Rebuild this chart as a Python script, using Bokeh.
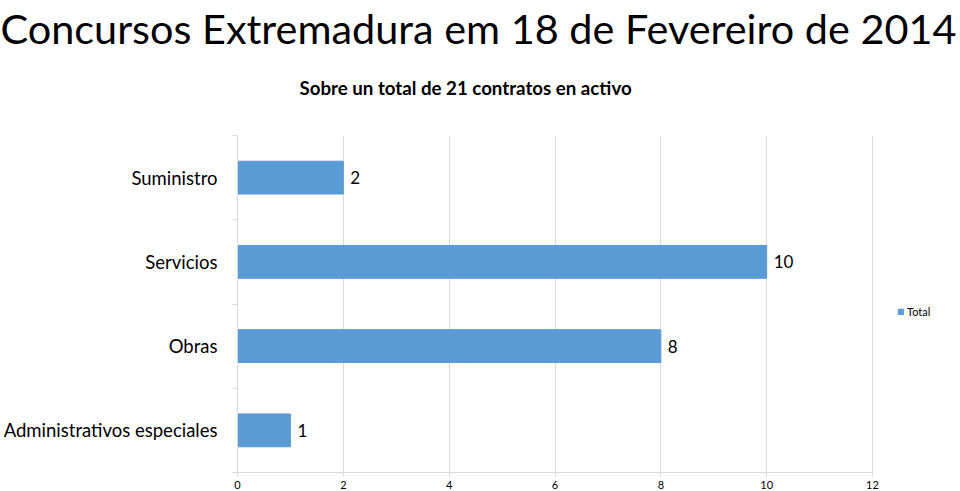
from bokeh.plotting import figure
from bokeh.models import ColumnDataSource, FixedTicker, Legend, LegendItem, Range1d, Title
from bokeh.core.properties import value
from bokeh.embed import file_html
from bokeh.resources import INLINE

title = "Concursos Extremadura em 18 de Fevereiro de 2014"
subtitle = "Sobre un total de 21 contratos en activo"
categories = ["Suministro", "Servicios", "Obras", "Administrativos especiales"]
totals = [2, 10, 8, 1]
x_ticks = [0, 2, 4, 6, 8, 10, 12]
series_name = "Total"

BAR = "#5B9BD5"
GRID = "#D9D9D9"
FONT = "Lato"

# plot-area geometry (pixels): value axis 0..12 spans x 237..872; frame runs on to 960
LEFT, AXIS_RIGHT, W = 237, 872, 960
x_max = x_ticks[-1]
x_view_max = x_max * (W - LEFT) / (AXIS_RIGHT - LEFT)

n = len(categories)
ypos = [n - i - 0.5 for i in range(n)]
src = ColumnDataSource(dict(y=ypos, v=totals, t=[str(v) for v in totals], c=categories))

p = figure(width=W, height=491, x_range=Range1d(0, x_view_max), y_range=Range1d(0, n),
           output_backend="svg", toolbar_location=None,
           min_border_left=LEFT, min_border_right=0, min_border_top=0, min_border_bottom=19)
p.outline_line_color = None

r = p.hbar(y="y", right="v", left=0, height=0.39, color=BAR, source=src)
p.text(x="v", y="y", text="t", source=src, x_offset=7, text_baseline="middle",
       text_align="left", text_font=value(FONT), text_font_size="17px", text_color="#000000")

p.xgrid.grid_line_color = GRID
p.xgrid.ticker = FixedTicker(ticks=x_ticks)
p.ygrid.grid_line_color = None

xa = p.xaxis[0]
xa.ticker = FixedTicker(ticks=x_ticks)
xa.bounds = (0, x_max)
xa.axis_line_color = GRID
xa.major_tick_line_color = GRID
xa.major_tick_out = 4
xa.major_tick_in = 0
xa.minor_tick_line_color = None
xa.major_label_text_font = FONT
xa.major_label_text_font_size = "11px"
xa.major_label_text_color = "#000000"
xa.major_label_standoff = 4

ya = p.yaxis[0]
ya.ticker = FixedTicker(ticks=ypos, minor_ticks=list(range(n + 1)))
ya.major_label_overrides = {y: c for y, c in zip(ypos, categories)}
ya.axis_line_color = GRID
ya.major_tick_line_color = None
ya.major_tick_out = 0
ya.major_tick_in = 0
ya.minor_tick_line_color = GRID
ya.minor_tick_out = 5
ya.minor_tick_in = 0
ya.major_label_text_font = FONT
ya.major_label_text_font_size = "18.5px"
ya.major_label_text_color = "#000000"
ya.major_label_standoff = 15

# headings stacked above the frame (first added sits closest to the frame)
p.add_layout(Title(text=" ", text_font_size="1px", standoff=8), "above")  # spacer
p.add_layout(Title(text=subtitle, align="left", offset=299 - LEFT, vertical_align="top",
                   text_font=FONT, text_font_size="18.7px", text_font_style="bold",
                   text_color="#000000", standoff=48), "above")
p.add_layout(Title(text=title, align="left", offset=-LEFT, text_font=FONT,
                   text_font_size="41.4px", text_font_style="normal", text_color="#000000",
                   standoff=0), "above")

legend = Legend(items=[LegendItem(label=series_name, renderers=[r])],
                location=(897 - LEFT, 472 - 318),
                padding=0, margin=0, border_line_color=None, background_fill_alpha=0,
                glyph_width=7, glyph_height=7, label_standoff=3, label_height=11,
                label_text_font=FONT, label_text_font_size="11px", label_text_color="#000000")
p.add_layout(legend)

open("out.html", "w").write(file_html(p, INLINE))
